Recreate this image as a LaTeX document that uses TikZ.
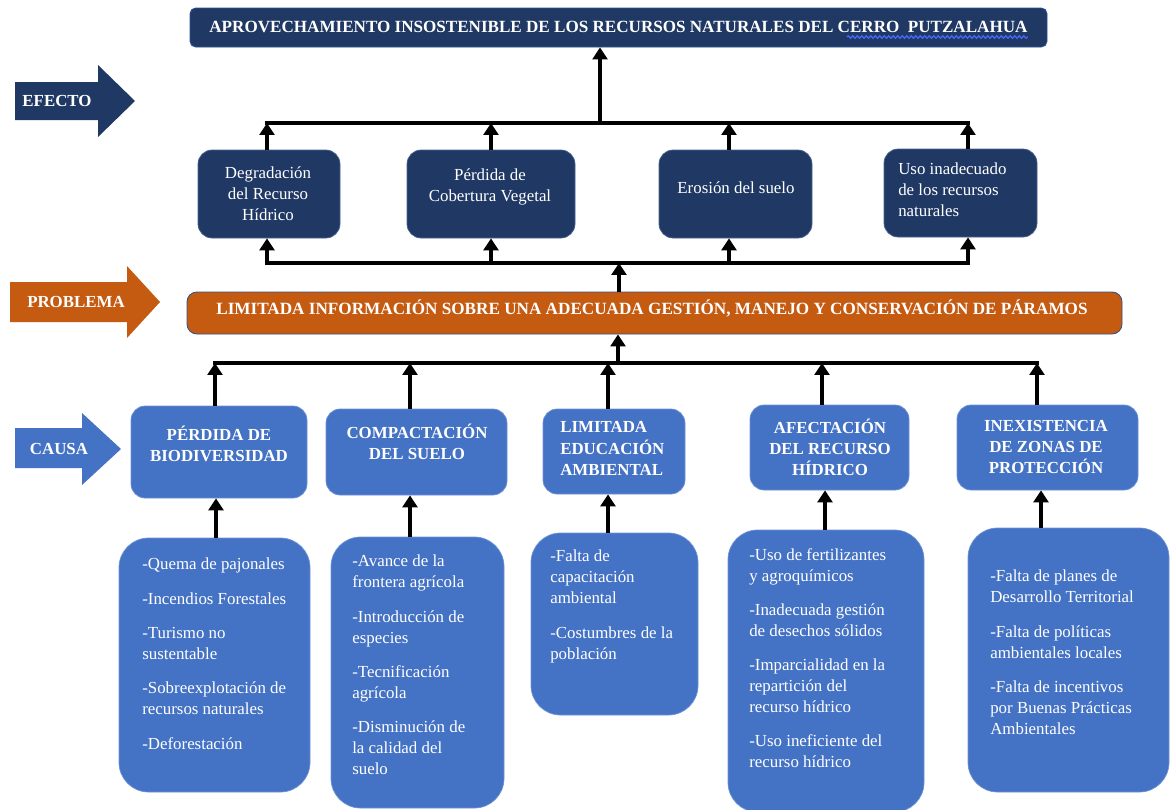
\documentclass[tikz,border=0pt]{standalone}
\usepackage{fontspec}
\setmainfont{Liberation Serif}
\usetikzlibrary{arrows.meta,decorations.pathmorphing,calc}
\definecolor{navy}{HTML}{1F3864}
\definecolor{navyedge}{HTML}{4A6390}
\definecolor{orng}{HTML}{C55A11}
\definecolor{cblue}{HTML}{4472C4}
\definecolor{cblueedge}{HTML}{6F93D6}
\definecolor{outl}{HTML}{2F528F}
\definecolor{spell}{HTML}{4A66FF}
\newlength\pxu \setlength\pxu{0.025cm}
\begin{document}
\begin{tikzpicture}[x=0.025cm,y=-0.025cm,
  every node/.style={inner sep=0pt},
  tx/.style={text=white, align=center, font=\fontsize{12}{15}\selectfont},
  txb/.style={text=white, align=center, font=\fontsize{12}{15}\selectfont\bfseries},
  navybox/.style={fill=navy, draw=navyedge, line width=0.5pt, rounded corners=10pt},
  bluebox/.style={fill=cblue, draw=cblueedge, line width=0.5pt, rounded corners=10pt},
  subbox/.style={fill=cblue, draw=cblueedge, line width=0.5pt, rounded corners=21pt},
  subtx/.style={text=white, align=left, anchor=north west, font=\fontsize{12}{14.9}\selectfont},
  arr/.style={line width=2.6pt, -{Triangle[width=10.5pt,length=8.5pt]}},
  bar/.style={line width=2.6pt, line cap=rect},
  wavyblue/.style={draw=spell, line width=0.9pt, decorate, decoration={snake, amplitude=0.9pt, segment length=3.2pt}}
]
\useasboundingbox (0,0) rectangle (1170,809);

% ---------- title ----------
\node[fill=navy, draw=outl, line width=0.6pt, rounded corners=4pt,
      minimum width=857\pxu, minimum height=39\pxu] (title) at (618.5,27.5) {};
\node[text=white, font=\fontsize{12.15}{14}\selectfont\bfseries] (ttl) at (618.5,27)
  {APROVECHAMIENTO INSOSTENIBLE DE LOS RECURSOS NATURALES DEL CERRO\ \ PUTZALAHUA};
\coordinate (wend) at ($(ttl.base east)+(0,4.5)$);
\coordinate (wstart) at ($(wend)+(-181,0)$);
\draw[wavyblue] (wstart) -- (wend);

% ---------- side arrows ----------
\fill[navy] (15,82) -- (98,82) -- (98,65) -- (135,101) -- (98,137) -- (98,120) -- (15,120) -- cycle;
\node[txb] (efecto) at (57,101) {EFECTO};
\fill[orng] (10,282) -- (127,282) -- (127,266) -- (160,302) -- (127,338) -- (127,322) -- (10,322) -- cycle;
\node[txb] (problema) at (76,302) {PROBLEMA};
\fill[cblue] (15,428) -- (82,428) -- (82,413) -- (121,449) -- (82,485) -- (82,468) -- (15,468) -- cycle;
\node[txb] (causa) at (59,449) {CAUSA};

% ---------- effect boxes ----------
\node[navybox, minimum width=142\pxu, minimum height=88\pxu] (e1) at (269,194) {};
\node[tx] (e1t) at (268,193.5) {Degradación\\del Recurso\\Hídrico};
\node[navybox, minimum width=168\pxu, minimum height=88\pxu] (e2) at (491,194) {};
\node[tx] (e2t) at (490,186.5) {Pérdida de\\Cobertura Vegetal};
\node[navybox, minimum width=153\pxu, minimum height=88\pxu] (e3) at (735.5,194) {};
\node[tx] (e3t) at (736,188) {Erosión del suelo};
\node[navybox, minimum width=153\pxu, minimum height=88\pxu] (e4) at (960.5,193) {};
\node[tx, align=left, anchor=west] (e4t) at (898,190) {Uso inadecuado\\de los recursos\\naturales};

% ---------- problem ----------
\node[fill=orng, draw=outl, line width=0.6pt, rounded corners=7pt,
      minimum width=935\pxu, minimum height=42\pxu] (prob) at (654.5,313) {};
\node[text=white, font=\fontsize{12.2}{14}\selectfont\bfseries] (probt) at (652,308)
  {LIMITADA INFORMACIÓN SOBRE UNA ADECUADA GESTIÓN, MANEJO Y CONSERVACIÓN DE PÁRAMOS};

% ---------- cause boxes ----------
\node[bluebox, minimum width=176\pxu, minimum height=92\pxu] (c1) at (219,452) {};
\node[txb] (c1t) at (219,443.5) {PÉRDIDA DE\\BIODIVERSIDAD};
\node[bluebox, minimum width=181\pxu, minimum height=86\pxu] (c2) at (416.5,452) {};
\node[txb] (c2t) at (417,442) {COMPACTACIÓN\\DEL SUELO};
\node[bluebox, minimum width=142\pxu, minimum height=85\pxu] (c3) at (614,451.5) {};
\node[txb, align=left, anchor=west] (c3t) at (560,448.5) {LIMITADA\\EDUCACIÓN\\AMBIENTAL};
\node[bluebox, minimum width=159\pxu, minimum height=85\pxu] (c4) at (829.5,447.5) {};
\node[txb] (c4t) at (830,447) {AFECTACIÓN\\DEL RECURSO\\HÍDRICO};
\node[bluebox, minimum width=181\pxu, minimum height=85\pxu] (c5) at (1047.5,447.5) {};
\node[txb] (c5t) at (1046,447) {INEXISTENCIA\\DE ZONAS DE\\PROTECCIÓN};

% ---------- sub boxes ----------
\node[subbox, minimum width=191\pxu, minimum height=254\pxu] (s1) at (214.5,665) {};
\node[subtx] (s1t) at (142,558) {-Quema de pajonales\\[9.5pt]-Incendios Forestales\\[9.5pt]-Turismo no\\sustentable\\[9.5pt]-Sobreexplotación de\\recursos naturales\\[9.5pt]-Deforestación};
\node[subbox, minimum width=173\pxu, minimum height=271\pxu] (s2) at (417.5,672.5) {};
\node[subtx] (s2t) at (352,555) {-Avance de la\\frontera agrícola\\[9.5pt]-Introducción de\\especies\\[9.5pt]-Tecnificación\\agrícola\\[9.5pt]-Disminución de\\la calidad del\\suelo};
\node[subbox, minimum width=167\pxu, minimum height=182\pxu] (s3) at (614.5,624) {};
\node[subtx] (s3t) at (550,550) {-Falta de\\capacitación\\ambiental\\[9.5pt]-Costumbres de la\\población};
\node[subbox, minimum width=196\pxu, minimum height=282\pxu] (s4) at (826,671) {};
\node[subtx] (s4t) at (749,548) {-Uso de fertilizantes\\y agroquímicos\\[9.5pt]-Inadecuada gestión\\de desechos sólidos\\[9.5pt]-Imparcialidad en la\\repartición del\\recurso hídrico\\[9.5pt]-Uso ineficiente del\\recurso hídrico};
\node[subbox, minimum width=201\pxu, minimum height=264\pxu] (s5) at (1068.5,660) {};
\node[subtx] (s5t) at (990,570) {-Falta de planes de\\Desarrollo Territorial\\[9.5pt]-Falta de políticas\\ambientales locales\\[9.5pt]-Falta de incentivos\\por Buenas Prácticas\\Ambientales};

% ---------- connector coordinates ----------
\coordinate (tb) at (600,123);
\coordinate (bb) at (619,263);
\coordinate (cb) at (618,363);
\coordinate (ex1) at (267,0);
\coordinate (ex2) at (491,0);
\coordinate (ex3) at (729,0);
\coordinate (ex4) at (968,0);
\coordinate (cx1) at (215,0);
\coordinate (cx2) at (410,0);
\coordinate (cx3) at (608,0);
\coordinate (cx4) at (822,0);
\coordinate (cx5) at (1037,0);
\coordinate (sx1) at (216,0);
\coordinate (sx2) at (410,0);
\coordinate (sx3) at (608,0);
\coordinate (sx4) at (825,0);
\coordinate (sx5) at (1041,0);

% ---------- effect level ----------
\draw[bar] (ex1 |- tb) -- (ex4 |- tb);
\draw[arr] (tb) -- (title.south -| tb);
\draw[arr] (e1.north -| ex1) -- (ex1 |- tb);
\draw[arr] (e2.north -| ex2) -- (ex2 |- tb);
\draw[arr] (e3.north -| ex3) -- (ex3 |- tb);
\draw[arr] (e4.north -| ex4) -- (ex4 |- tb);

\draw[bar] (ex1 |- bb) -- (ex4 |- bb);
\draw[arr] (prob.north -| bb) -- (bb);
\draw[arr] (ex1 |- bb) -- (e1.south -| ex1);
\draw[arr] (ex2 |- bb) -- (e2.south -| ex2);
\draw[arr] (ex3 |- bb) -- (e3.south -| ex3);
\draw[arr] (ex4 |- bb) -- (e4.south -| ex4);

% ---------- cause level ----------
\draw[bar] (cx1 |- cb) -- (cx5 |- cb);
\draw[arr] (cb) -- (prob.south -| cb);
\draw[arr] (c1.north -| cx1) -- (cx1 |- cb);
\draw[arr] (c2.north -| cx2) -- (cx2 |- cb);
\draw[arr] (c3.north -| cx3) -- (cx3 |- cb);
\draw[arr] (c4.north -| cx4) -- (cx4 |- cb);
\draw[arr] (c5.north -| cx5) -- (cx5 |- cb);

\draw[arr] (s1.north -| sx1) -- (c1.south -| sx1);
\draw[arr] (s2.north -| sx2) -- (c2.south -| sx2);
\draw[arr] (s3.north -| sx3) -- (c3.south -| sx3);
\draw[arr] (s4.north -| sx4) -- (c4.south -| sx4);
\draw[arr] (s5.north -| sx5) -- (c5.south -| sx5);
\end{tikzpicture}
\end{document}
